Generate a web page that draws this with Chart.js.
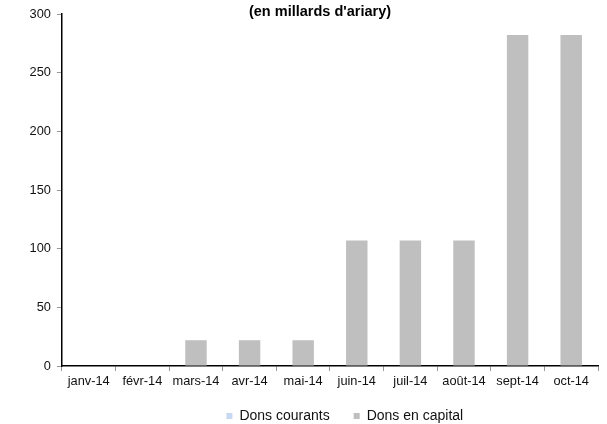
<!DOCTYPE html>
<html lang="fr">
<head>
  <meta charset="UTF-8">
  <title>Dons (en millards d'ariary)</title>
  <style>
    body { margin: 0; background: #fff; }
    #wrap { width: 607px; height: 424px; position: relative; }
  </style>
</head>
<body>
  <div id="wrap"><canvas id="chart"></canvas></div>

  <script src="https://cdn.jsdelivr.net/npm/chart.js"></script>
  <script>
    // data
    const months = ['janv-14', 'févr-14', 'mars-14', 'avr-14', 'mai-14', 'juin-14', 'juil-14', 'août-14', 'sept-14', 'oct-14'];
    const donsCourants = [0, 0, 0, 0, 0, 0, 0, 0, 0, 0];
    const donsCapital = [0, 0, 22, 22, 22, 107, 107, 107, 282, 282];
    const yTicks = [0, 50, 100, 150, 200, 250, 300];
    const titleText = "(en millards d'ariary)";

    const FONT = '"Liberation Sans", Arial, sans-serif';
    Chart.defaults.font.family = FONT;
    Chart.defaults.font.size = 12.8;
    Chart.defaults.color = '#111';

    // title above the plot, no layout space taken
    const topTitle = {
      id: 'topTitle',
      afterDraw(chart) {
        const ctx = chart.ctx;
        ctx.save();
        ctx.font = 'bold 14.5px ' + FONT;
        ctx.fillStyle = '#000';
        ctx.textAlign = 'center';
        ctx.textBaseline = 'middle';
        ctx.fillText(titleText, 320, 11.5);
        ctx.restore();
      }
    };

    // move legend to the Excel spot (a bit right, 50px under the axis)
    const legendShift = {
      id: 'legendShift',
      afterLayout(chart) {
        const lg = chart.legend;
        const dx = 34;
        const dy = chart.chartArea.bottom + 50 - (lg.top + 24 + 7);
        lg.left += dx; lg.right += dx;
        lg.top += dy; lg.bottom += dy;
      }
    };

    new Chart(document.getElementById('chart'), {
      type: 'bar',
      data: {
        labels: months,
        datasets: [
          { label: 'Dons courants', data: donsCourants, backgroundColor: '#c6d9f1' },
          { label: 'Dons en capital', data: donsCapital, backgroundColor: '#bfbfbf' }
        ]
      },
      options: {
        responsive: true,
        maintainAspectRatio: false,
        animation: false,
        layout: { padding: { left: 23.6, right: 9, top: 14, bottom: -16.4 } },
        datasets: { bar: { categoryPercentage: 1, barPercentage: 0.4 } },
        scales: {
          x: {
            stacked: true,
            grid: { drawOnChartArea: false, offset: true, tickLength: 5, tickColor: '#999' },
            border: { color: '#000', width: 1.5 },
            ticks: { padding: 3, maxRotation: 0 }
          },
          y: {
            stacked: true,
            min: 0,
            max: 300,
            afterBuildTicks(axis) { axis.ticks = yTicks.map(v => ({ value: v })); },
            grid: { drawOnChartArea: false, tickLength: 5, tickColor: '#999' },
            border: { color: '#000', width: 1.5 },
            ticks: { padding: 6 }
          }
        },
        plugins: {
          legend: {
            position: 'bottom',
            labels: { boxWidth: 6, boxHeight: 6, padding: 24, font: { size: 14 } }
          },
          tooltip: { enabled: false }
        }
      },
      plugins: [topTitle, legendShift]
    });
  </script>
</body>
</html>
